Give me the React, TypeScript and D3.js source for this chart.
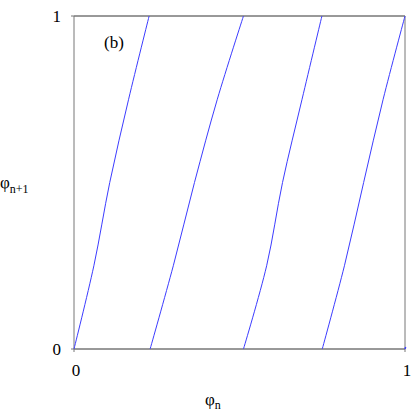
import React from "react";
import * as d3 from "d3";

const phiLevels = [0, 0.25, 0.5, 0.75, 1];
const branch1 = [0, 0.06, 0.108, 0.165, 0.227];
const branch2 = [0.23, 0.3, 0.364, 0.433, 0.512];
const branch3 = [0.512, 0.582, 0.63, 0.689, 0.749];
const branch4 = [0.75, 0.817, 0.875, 0.934, 1.0];
const branch5 = [1.0, 1.002];
const branch5Levels = [0, 0.006];
const xTicks = [0, 1];
const yTicks = [0, 1];

export default function App() {
  const W = 415, H = 415;
  const left = 74, right = 405, top = 16, bottom = 349;
  const x = d3.scaleLinear().domain([0, 1]).range([left, right]);
  const y = d3.scaleLinear().domain([0, 1]).range([bottom, top]);
  const line = d3
    .line<[number, number]>()
    .x((d) => x(d[0]))
    .y((d) => y(d[1]))
    .curve(d3.curveCatmullRom);
  const branches = [branch1, branch2, branch3, branch4].map((b) =>
    b.map((v, i) => [v, phiLevels[i]] as [number, number])
  );
  const b5 = branch5.map((v, i) => [v, branch5Levels[i]] as [number, number]);
  const font = "'Liberation Serif', 'DejaVu Serif', serif";
  return (
    <svg
      width={W}
      height={H}
      style={{ position: "absolute", left: 0, top: 0, background: "#fff" }}
      fontFamily={font}
    >
      <rect x={0} y={0} width={W} height={H} fill="#fff" />
      {/* frame */}
      <line x1={left} y1={top} x2={right} y2={top} stroke="#333" strokeWidth={1} />
      <line x1={left} y1={bottom} x2={right} y2={bottom} stroke="#333" strokeWidth={1} />
      <line x1={left} y1={top} x2={left} y2={bottom} stroke="#777" strokeWidth={1} />
      <line x1={right} y1={top} x2={right} y2={bottom} stroke="#777" strokeWidth={1} />
      {xTicks.map((t) => (
        <g key={"x" + t}>
          <line x1={x(t)} x2={x(t)} y1={bottom} y2={bottom + 3} stroke="#777" />
          <text x={x(t) + 2} y={bottom + 27} fontSize={17} textAnchor="middle" fill="#000">
            {t}
          </text>
        </g>
      ))}
      {yTicks.map((t) => (
        <g key={"y" + t}>
          <line x1={left - 3} x2={left} y1={y(t)} y2={y(t)} stroke="#777" />
          <text x={left - 13} y={y(t) + 6} fontSize={17} textAnchor="end" fill="#000">
            {t}
          </text>
        </g>
      ))}
      {branches.map((b, i) => (
        <path key={i} d={line(b) || ""} fill="none" stroke="#3c3cff" strokeWidth={1} />
      ))}
      <path d={line(b5) || ""} fill="none" stroke="#3c3cff" strokeWidth={1.5} />
      <text x={104} y={48} fontSize={17} fill="#000">(b)</text>
      <text x={205} y={405} fontSize={17} fill="#000">
        φ<tspan fontSize={12} dy={4}>n</tspan>
      </text>
      <text x={0} y={188} fontSize={17} fill="#000">
        φ<tspan fontSize={12} dy={5}>n+1</tspan>
      </text>
    </svg>
  );
}
